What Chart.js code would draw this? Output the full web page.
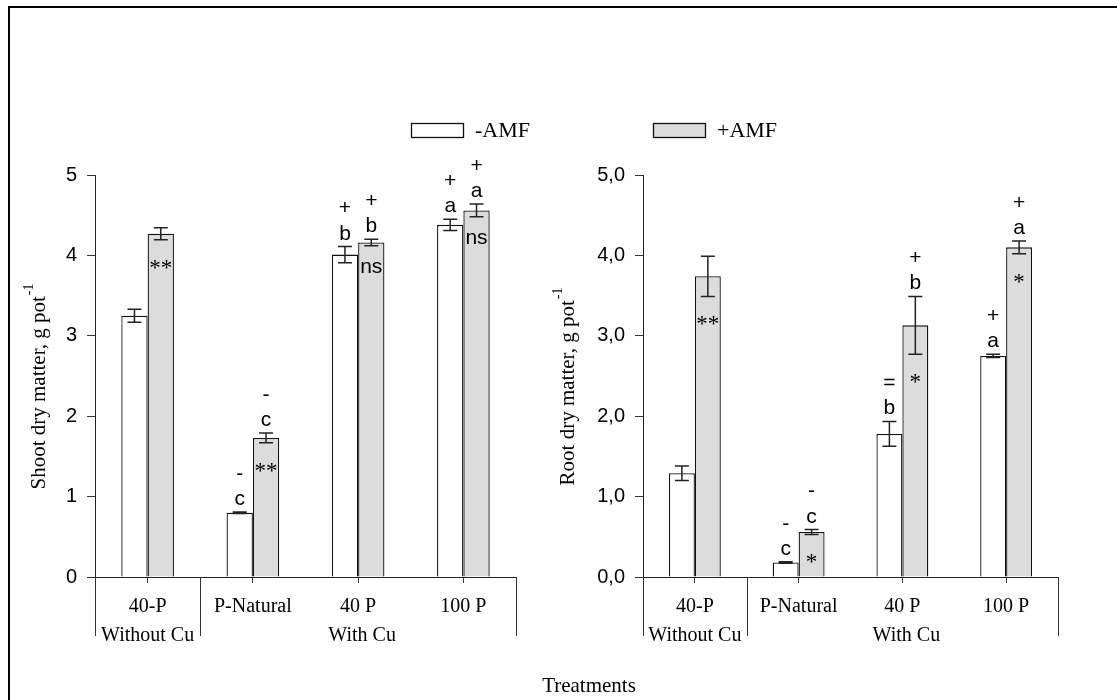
<!DOCTYPE html>
<html>
<head>
<meta charset="utf-8">
<script src="https://cdn.jsdelivr.net/npm/chart.js@4.4.1/dist/chart.umd.min.js"></script>
<style>
  body { margin: 0; background: #fff; }
  #wrap { position: relative; width: 1117px; height: 700px; }
  #wrap canvas { position: absolute; left: 0; top: 0; }
</style>
</head>
<body>
<div id="wrap">
  <canvas id="shootChart" width="1117" height="700"></canvas>
  <canvas id="rootChart" width="1117" height="700"></canvas>
</div>
<script>
const treatments = ['40-P', 'P-Natural', '40 P', '100 P'];
const cuGroups = ['Without Cu', 'With Cu'];
const cuGroupSizes = [1, 3];
const seriesNames = ['-AMF', '+AMF'];

// shoot dry matter (g pot-1)
const shootMinus = [3.25, 0.80, 4.01, 4.38];
const shootMinusErr = [0.08, 0.01, 0.10, 0.07];
const shootPlus = [4.27, 1.73, 4.16, 4.56];
const shootPlusErr = [0.075, 0.06, 0.04, 0.08];

// root dry matter (g pot-1)
const rootMinus = [1.29, 0.18, 1.78, 2.75];
const rootMinusErr = [0.09, 0.01, 0.155, 0.02];
const rootPlus = [3.74, 0.56, 3.13, 4.10];
const rootPlusErr = [0.25, 0.03, 0.36, 0.08];

// letters and signs over the bars, marks inside the +AMF bars
const shootMinusLetter = ['', 'c', 'b', 'a'];
const shootMinusSign = ['', '-', '+', '+'];
const shootPlusLetter = ['', 'c', 'b', 'a'];
const shootPlusSign = ['', '-', '+', '+'];
const shootPlusInside = ['**', '**', 'ns', 'ns'];

const rootMinusLetter = ['', 'c', 'b', 'a'];
const rootMinusSign = ['', '-', '=', '+'];
const rootPlusLetter = ['', 'c', 'b', 'a'];
const rootPlusSign = ['', '-', '+', '+'];
const rootPlusInside = ['**', '*', '*', '*'];

const shootTicks = ['0', '1', '2', '3', '4', '5'];
const rootTicks = ['0,0', '1,0', '2,0', '3,0', '4,0', '5,0'];

const SERIF = '"Liberation Serif", "Times New Roman", serif';
const SANS = '"Liberation Sans", Arial, sans-serif';
const INK = '#111';
const GREY = '#dcdcdc';

const annotPlugin = {
  id: 'annot',
  afterDatasetsDraw(chart, args, opts) {
    const ctx = chart.ctx;
    const ys = chart.scales.y;
    ctx.save();
    chart.data.datasets.forEach((ds, di) => {
      const meta = chart.getDatasetMeta(di);
      meta.data.forEach((bar, i) => {
        const v = ds.data[i];
        const e = ds.errors[i];
        const top = ys.getPixelForValue(v + e);
        const bot = ys.getPixelForValue(v - e);
        const cx = bar.x;
        // error bar
        ctx.strokeStyle = '#222';
        ctx.lineWidth = 1.5;
        ctx.beginPath();
        ctx.moveTo(cx, top); ctx.lineTo(cx, bot);
        ctx.moveTo(cx - 7, top); ctx.lineTo(cx + 7, top);
        ctx.moveTo(cx - 7, bot); ctx.lineTo(cx + 7, bot);
        ctx.stroke();

        ctx.fillStyle = '#000';
        ctx.textAlign = 'center';
        ctx.font = '21px ' + SANS;
        if (ds.letters[i]) {
          ctx.textBaseline = 'alphabetic';
          ctx.fillText(ds.letters[i], cx, top - 7);
        }
        if (ds.signs[i]) {
          ctx.textBaseline = 'middle';
          ctx.fillText(ds.signs[i], cx, top - 38);
        }
        const inside = ds.inside ? ds.inside[i] : '';
        if (inside) {
          const cy = bot + 22;
          ctx.textBaseline = 'alphabetic';
          if (inside === 'ns') {
            ctx.font = '21px ' + SANS;
            ctx.fillText(inside, cx, cy + 5);
          } else {
            ctx.font = '23px ' + SERIF;
            ctx.fillText(inside, cx, cy + 13);
          }
        }
      });
    });
    ctx.restore();
  },
  afterDraw(chart, args, opts) {
    const ctx = chart.ctx;
    const xs = chart.scales.x;
    const area = chart.chartArea;
    const step = (area.right - area.left) / chart.data.labels.length;
    ctx.save();

    // group separators and group names below the axis
    ctx.strokeStyle = '#333';
    ctx.lineWidth = 1;
    ctx.fillStyle = '#000';
    ctx.font = '20px ' + SERIF;
    ctx.textAlign = 'center';
    ctx.textBaseline = 'alphabetic';
    let start = 0;
    const edges = [];
    cuGroupSizes.forEach((n, g) => {
      const x0 = xs.getPixelForValue(start) - step / 2;
      const x1 = xs.getPixelForValue(start + n - 1) + step / 2;
      edges.push(x0, x1);
      ctx.fillText(cuGroups[g], (x0 + x1) / 2 + (n > 1 ? 4 : 0), area.bottom + 64);
      start += n;
    });
    ctx.beginPath();
    edges.forEach(px => {
      const p = Math.round(px) + 0.5;
      ctx.moveTo(p, area.bottom);
      ctx.lineTo(p, area.bottom + 59);
    });
    ctx.stroke();

    // y title with superscript
    const t = opts.title;
    ctx.translate(opts.titleX, 387);
    ctx.rotate(-Math.PI / 2);
    ctx.font = '21px ' + SERIF;
    const w = ctx.measureText(t).width;
    ctx.font = '14px ' + SERIF;
    const ws = ctx.measureText('-1').width;
    const x0 = -(w + ws) / 2;
    ctx.textAlign = 'left';
    ctx.textBaseline = 'alphabetic';
    ctx.font = '21px ' + SERIF;
    ctx.fillText(t, x0, 7);
    ctx.font = '14px ' + SERIF;
    ctx.fillText('-1', x0 + w + 1, -5);
    ctx.setTransform(1, 0, 0, 1, 0, 0);

    if (opts.showLegend) {
      // legend
      ctx.lineWidth = 1.3;
      ctx.strokeStyle = INK;
      const boxes = [[411, '#fff'], [653, GREY]];
      boxes.forEach((b, k) => {
        ctx.fillStyle = b[1];
        ctx.fillRect(b[0], 123, 52, 14);
        ctx.strokeRect(b[0] + 0.5, 123.5, 52, 14);
        ctx.fillStyle = '#000';
        ctx.font = '22px ' + SERIF;
        ctx.textAlign = 'left';
        ctx.fillText(seriesNames[k], b[0] + 64, 137);
      });
      // shared x title
      ctx.font = '21px ' + SERIF;
      ctx.textAlign = 'center';
      ctx.fillText('Treatments', 589, 692);
    }
    ctx.restore();
  }
};

function makeChart(id, s) {
  const ctx = document.getElementById(id).getContext('2d');
  return new Chart(ctx, {
    type: 'bar',
    data: {
      labels: treatments,
      datasets: [{
        label: seriesNames[0],
        data: s.minus,
        errors: s.minusErr,
        letters: s.minusLetter,
        signs: s.minusSign,
        backgroundColor: '#fff',
        borderColor: INK,
        borderWidth: 1.3,
        categoryPercentage: 0.5,
        barPercentage: 1.0
      }, {
        label: seriesNames[1],
        data: s.plus,
        errors: s.plusErr,
        letters: s.plusLetter,
        signs: s.plusSign,
        inside: s.plusInside,
        backgroundColor: GREY,
        borderColor: INK,
        borderWidth: 1.3,
        categoryPercentage: 0.5,
        barPercentage: 1.0
      }]
    },
    options: {
      responsive: false,
      animation: false,
      layout: { padding: { left: s.padLeft, right: s.padRight, top: 175, bottom: 0 } },
      plugins: {
        legend: { display: false },
        tooltip: { enabled: false },
        annot: { title: s.title, titleX: s.titleX, showLegend: s.showLegend }
      },
      scales: {
        x: {
          offset: true,
          grid: { offset: false, drawOnChartArea: false, tickLength: 6, color: '#333' },
          border: { display: true, color: '#222', width: 1 },
          ticks: { font: { family: SERIF, size: 20 }, color: '#000', padding: 12, maxRotation: 0 },
          afterFit: (scale) => { scale.height = 123; }
        },
        y: {
          min: 0,
          max: 5,
          grid: { drawOnChartArea: false, tickLength: 8, color: '#333' },
          border: { display: true, color: '#222', width: 1 },
          ticks: {
            stepSize: 1,
            font: { family: SANS, size: 20 },
            color: '#000',
            padding: 10,
            callback: (v, i) => s.ticks[i]
          },
          afterFit: (scale) => { scale.width = s.yWidth; }
        }
      }
    },
    plugins: [annotPlugin]
  });
}

makeChart('shootChart', {
  minus: shootMinus, minusErr: shootMinusErr, minusLetter: shootMinusLetter, minusSign: shootMinusSign,
  plus: shootPlus, plusErr: shootPlusErr, plusLetter: shootPlusLetter, plusSign: shootPlusSign,
  plusInside: shootPlusInside,
  ticks: shootTicks,
  title: 'Shoot dry matter, g pot',
  titleX: 38,
  padLeft: 0, padRight: 1117 - 516, yWidth: 95,
  showLegend: true
});

makeChart('rootChart', {
  minus: rootMinus, minusErr: rootMinusErr, minusLetter: rootMinusLetter, minusSign: rootMinusSign,
  plus: rootPlus, plusErr: rootPlusErr, plusLetter: rootPlusLetter, plusSign: rootPlusSign,
  plusInside: rootPlusInside,
  ticks: rootTicks,
  title: 'Root dry matter, g pot',
  titleX: 567,
  padLeft: 560, padRight: 1117 - 1058, yWidth: 83,
  showLegend: false
});
</script>
<div style="position:absolute;left:8px;top:6px;width:1109px;height:2px;background:#000"></div>
<div style="position:absolute;left:8px;top:6px;width:2px;height:694px;background:#000"></div>
</body>
</html>
